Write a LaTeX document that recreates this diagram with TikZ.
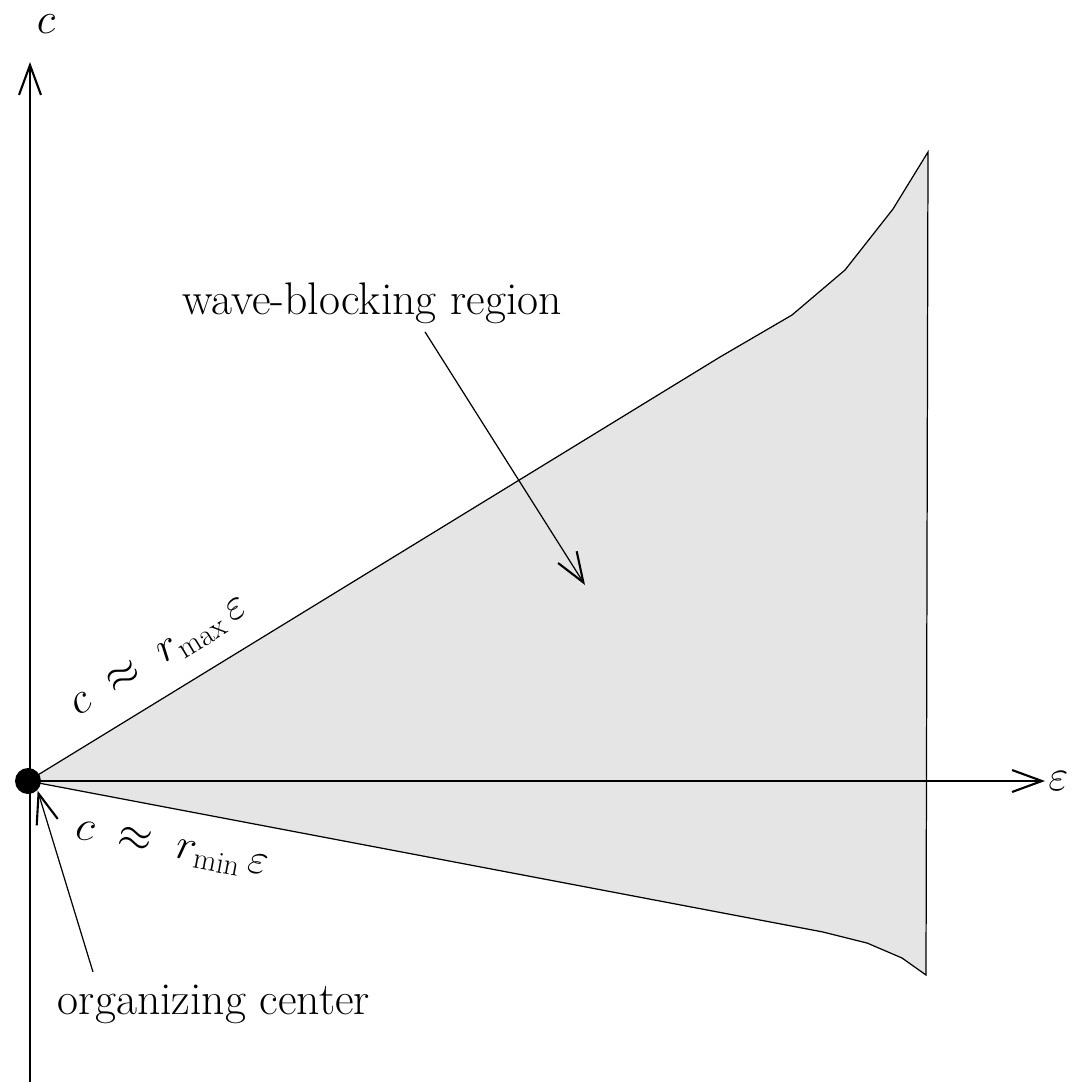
\documentclass[tikz,border=0pt]{standalone}
\usepackage{amssymb}
\usepackage{amsmath}
\usetikzlibrary{arrows.meta}

\begin{document}
\begin{tikzpicture}[x=0.02cm, y=-0.02cm, line width=0.7pt,
    >={Straight Barb[length=17pt,width=12.5pt,line width=1.2pt]},
    lbl/.style={font=\fontsize{26}{30}\selectfont, inner sep=1pt}]

\useasboundingbox (0,0) rectangle (1075,1082);

% Wave-blocking region
\fill[gray!20]
    (28,781) -- (720,357) -- (792,315) -- (845,270) -- (893,209)
    -- (928,152) -- (926,975) -- (902,958) -- (867,943) -- (823,932)
    -- cycle;
\draw (28,781) -- (720,357) -- (792,315) -- (845,270) -- (893,209)
    -- (928,152) -- (926,975) -- (902,958) -- (867,943) -- (823,932)
    -- cycle;

% Axes
\draw[->] (30,1082) -- (30,62);
\node[lbl] (cax) at (46,24) {$c$};
\draw[->] (28,781) -- (1045,781);
\node[lbl, anchor=west] (epsax) at (1046,781) {$\varepsilon$};

% Organizing center
\node[circle, fill, inner sep=0pt, minimum size=0.52cm] (oc) at (28,781) {};

% Boundary labels
\node[lbl, rotate=31.5] (rmax) at (160,658)
    {$c \;\approx\; r_{\max}\,\varepsilon$};
\node[lbl, rotate=-10.8] (rmin) at (172,850)
    {$c \;\approx\; r_{\min}\,\varepsilon$};

% Annotations
\node[lbl] (wbr) at (372,303) {wave-blocking region};
\coordinate (wbrtip) at (585,585);
\draw[->] (wbr.south) ++(53,6) -- (wbrtip);

\node[lbl] (orgc) at (214,1004) {organizing center};
\coordinate (orgtail) at (93,972);
\draw[->] (orgtail) -- (oc.south east);

\end{tikzpicture}
\end{document}
